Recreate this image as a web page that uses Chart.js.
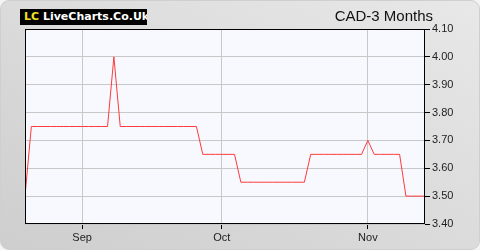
<!DOCTYPE html>
<html>
<head>
<meta charset="utf-8">
<script src="https://cdn.jsdelivr.net/npm/chart.js@4.4.0/dist/chart.umd.min.js"></script>
<style>
    html, body { margin: 0; padding: 0; background: #f4f4f4; }
    #wrap {
        position: relative;
        width: 480px;
        height: 250px;
        box-sizing: border-box;
        border: 1px solid #cfcfcf;
        border-radius: 9px;
        background: linear-gradient(to top right, #cecece, #e8e8e8);
        overflow: hidden;
    }
    #chart { position: absolute; left: 0; top: 0; }
    #logo {
        position: absolute;
        left: 19px;
        top: 8px;
        width: 127px;
        height: 16px;
        background: #000;
        font: bold 11px "DejaVu Sans", sans-serif;
        line-height: 16px;
        color: #fff;
        padding-left: 4px;
        box-sizing: border-box;
        white-space: nowrap;
        overflow: hidden;
    }
    #logo span { color: #f0e020; }
    #title {
        position: absolute;
        right: 46px;
        top: 6px;
        font: 15px "Liberation Sans", Arial, sans-serif;
        color: #111;
    }
</style>
</head>
<body>
<div id="wrap">
    <canvas id="chart" width="478" height="248"></canvas>
    <div id="logo"><span>LC</span> LiveCharts.Co.Uk</div>
    <div id="title">CAD-3 Months</div>
</div>
<script>
// trading day values, one per day
const rates = [
    3.50,
    3.75, 3.75, 3.75, 3.75, 3.75, 3.75, 3.75, 3.75, 3.75, 3.75, 3.75, 3.75, 3.75,
    4.00,
    3.75, 3.75, 3.75, 3.75, 3.75, 3.75, 3.75, 3.75, 3.75, 3.75, 3.75, 3.75, 3.75,
    3.65, 3.65, 3.65, 3.65, 3.65, 3.65,
    3.55, 3.55, 3.55, 3.55, 3.55, 3.55, 3.55, 3.55, 3.55, 3.55, 3.55,
    3.65, 3.65, 3.65, 3.65, 3.65, 3.65, 3.65, 3.65, 3.65,
    3.70,
    3.65, 3.65, 3.65, 3.65, 3.65,
    3.50, 3.50, 3.50, 3.50
];
// first trading day of each month (index into rates)
const monthTickPos = [9, 31, 54];
const monthLabels = ['Sep', 'Oct', 'Nov'];
const yTicks = [3.40, 3.50, 3.60, 3.70, 3.80, 3.90, 4.00, 4.10];

const chartAreaBox = {
    id: 'chartAreaBox',
    beforeDraw(chart) {
        const { ctx, chartArea: { left, top, width, height } } = chart
        ctx.save()
        ctx.fillStyle = '#f8f9ff'
        ctx.fillRect(left, top, width, height)
        ctx.restore()
    },
    afterDraw(chart) {
        const { ctx, chartArea: { left, top, width, height } } = chart
        ctx.save()
        ctx.strokeStyle = '#000'
        ctx.lineWidth = 1
        ctx.strokeRect(left + 0.5, top + 0.5, width - 1, height - 1)
        ctx.restore()
    }
}

const points = rates.map((v, i) => ({ x: i, y: v }));

new Chart(document.getElementById('chart'), {
    type: 'line',
    data: {
        datasets: [{
            data: points,
            borderColor: '#ff3a3a',
            borderWidth: 1,
            pointRadius: 0,
            tension: 0,
            fill: false
        }]
    },
    options: {
        responsive: false,
        animation: false,
        layout: { padding: { left: 24, top: 28, right: 0, bottom: 0 } },
        scales: {
            x: {
                type: 'linear',
                min: 0,
                max: rates.length - 1,
                afterFit(scale) { scale.height = 25; },
                afterBuildTicks(scale) {
                    scale.ticks = monthTickPos.map(v => ({ value: v }));
                },
                grid: { color: '#c8c8c8', tickColor: '#000', tickLength: 5 },
                border: { display: false },
                ticks: {
                    padding: 2,
                    maxRotation: 0,
                    autoSkip: false,
                    color: '#222',
                    font: { family: 'Liberation Sans, Arial', size: 11 },
                    callback: function(value) {
                        const i = monthTickPos.indexOf(value);
                        return i >= 0 ? monthLabels[i] : '';
                    }
                }
            },
            y: {
                position: 'right',
                min: yTicks[0],
                max: yTicks[yTicks.length - 1],
                afterFit(scale) { scale.width = 54; },
                afterBuildTicks(scale) {
                    scale.ticks = yTicks.map(v => ({ value: v }));
                },
                grid: { color: '#c8c8c8', tickColor: '#000', tickLength: 5 },
                border: { display: false },
                ticks: {
                    padding: 2,
                    color: '#222',
                    font: { family: 'Liberation Sans, Arial', size: 11 },
                    callback: function(value) {
                        return value.toFixed(2);
                    }
                }
            }
        },
        plugins: {
            legend: { display: false },
            tooltip: { enabled: false }
        }
    },
    plugins: [chartAreaBox]
});
</script>
</body>
</html>
